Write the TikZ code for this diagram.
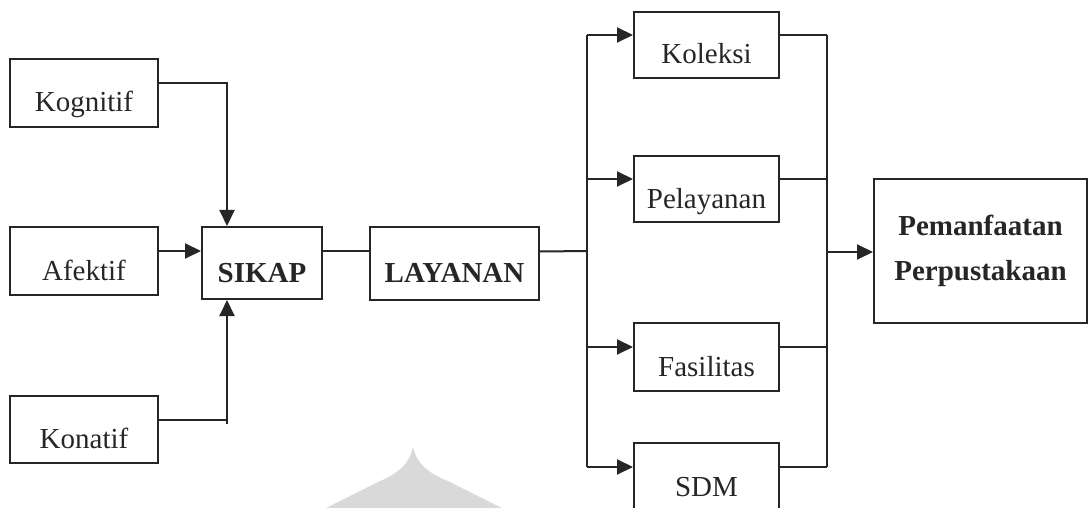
\documentclass[tikz,border=0pt]{standalone}
\usepackage{fontspec}
\setmainfont{Liberation Serif}
\usetikzlibrary{arrows.meta,calc}
\definecolor{ink}{HTML}{262626}
\definecolor{wm}{HTML}{D9D9D9}
\tikzset{
  box/.style={draw=ink, line width=1pt, rectangle, inner sep=0pt, text=ink,
    font=\fontsize{14.5}{17}\selectfont, text height=19pt, text depth=0pt},
  bbox/.style={box, font=\fontsize{14.5}{17}\selectfont\bfseries},
  conn/.style={draw=ink, line width=1pt},
  arr/.style={conn, -{Triangle[length=8pt,width=7.5pt]}}
}
\begin{document}
\begin{tikzpicture}[x=0.5pt,y=-0.5pt]
\useasboundingbox (0,0) rectangle (1088,508);
% watermark
\fill[wm] (413,447) .. controls (409,465) and (397,474) .. (378,482) -- (318,512) -- (510,512) -- (450,482) .. controls (430,474) and (417,465) .. (413,447) -- cycle;
% left boxes
\node[box, minimum width=74pt, minimum height=34pt] (kog) at (84,93) {Kognitif};
\node[box, minimum width=74pt, minimum height=34pt] (afe) at (84,261) {Afektif};
\node[box, minimum width=74pt, minimum height=33.5pt] (kon) at (84,429.5) {Konatif};
\node[bbox, minimum width=60pt, minimum height=36pt] (sikap) at (262,263) {SIKAP\hspace{4pt}};
\node[bbox, minimum width=84.5pt, minimum height=36.5pt] (lay) at (454.5,263.5) {LAYANAN\hspace{3pt}};
% right boxes
\node[box, minimum width=72.5pt, minimum height=33pt] (kol) at (706.5,45) {Koleksi};
\node[box, minimum width=72.5pt, minimum height=33pt] (pel) at (706.5,189) {Pelayanan\hspace{3pt}};
\node[box, minimum width=72.5pt, minimum height=34pt] (fas) at (706.5,357) {Fasilitas};
\node[box, minimum width=72.5pt, minimum height=34pt] (sdm) at (706.5,477) {SDM};
\node[box, font=\fontsize{14.5}{22.5}\selectfont\bfseries, align=center, text height=, text depth=,
  minimum width=106.5pt, minimum height=72pt] (pem) at (980.5,251) {Pemanfaatan\\Perpustakaan};
% coordinates for buses
\coordinate (kc) at (227,424);
\coordinate (bl) at (587,251);
\coordinate (br) at (827,252);
% left connectors
\draw[arr] ([yshift=5pt]kog.east) -| ([xshift=-17.5pt]sikap.north);
\draw[arr] ([yshift=5pt]afe.east) -- ([yshift=5pt]afe.east -| sikap.west);
\draw[arr] ([yshift=5pt]kon.east) -| ([xshift=-17.5pt]sikap.south);
\draw[conn] ([yshift=5pt]kon.east -| kc) -- (kc);
\draw[conn] ([yshift=6pt]sikap.east) -- ([yshift=6pt]sikap.east -| lay.west);
\draw[conn] ([yshift=6pt]lay.east) -- (bl);
% left bus
\draw[conn] ([yshift=5pt]kol.west -| bl) -- ([yshift=5pt]sdm.west -| bl);
\foreach \n in {kol,pel,fas,sdm}{
  \draw[arr] ([yshift=5pt]\n.west -| bl) -- ([yshift=5pt]\n.west);
}
% right bus
\draw[conn] ([yshift=5pt]kol.east -| br) -- ([yshift=5pt]sdm.east -| br);
\foreach \n in {kol,pel,fas,sdm}{
  \draw[conn] ([yshift=5pt]\n.east) -- ([yshift=5pt]\n.east -| br);
}
\draw[arr] (br) -- (br -| pem.west);
\end{tikzpicture}
\end{document}
